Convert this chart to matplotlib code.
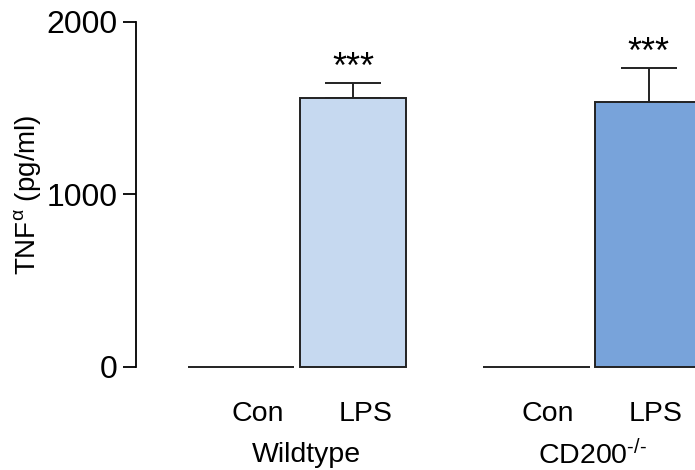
import matplotlib.pyplot as plt

# Data
treatments = ["Con", "LPS", "Con", "LPS"]
groups = ["Wildtype", "CD200$^{\\text{-/-}}$"]
tnf_mean = [0, 1561, 0, 1538]
tnf_err = [0, 86, 0, 196]
stars = ["", "***", "", "***"]

positions = [0, 1, 2.64, 3.64]
colors = ["white", "#c6d9f0", "white", "#78a3da"]
# small horizontal shifts of the text labels (Prism style)
label_shift = [0.15, 0.11, 0.10, 0.06]
group_shift = [0.08, 0.0]

plt.rcParams.update({
    "font.family": ["Liberation Sans", "DejaVu Sans"],
    "mathtext.fontset": "custom",
    "mathtext.rm": "Liberation Sans",
    "mathtext.it": "Liberation Sans",
    "font.size": 20,
})

fig = plt.figure(figsize=(6.95, 4.7), dpi=100)
ax = fig.add_axes([136 / 695, 103 / 470, 1 - 136 / 695, 345 / 470])

for x, h, e, c, s in zip(positions, tnf_mean, tnf_err, colors, stars):
    ax.bar(x, h, width=0.95, color=c, edgecolor="#222222", linewidth=1.4,
           clip_on=False, zorder=2)
    if e > 0:
        ax.errorbar(x, h, yerr=[[0], [e]], fmt="none", ecolor="#222222",
                    elinewidth=1.4, capsize=20, capthick=1.4, zorder=1)
    if s:
        ax.text(x, h + e - 15, s, ha="center", va="bottom", fontsize=26)

ax.set_xlim(-0.9375, 4.054)
ax.set_ylim(0, 2000)
ax.set_yticks([0, 1000, 2000])
ax.set_xticks([])
ax.tick_params(axis="y", direction="out", length=9.5, width=1.3, labelsize=23)
ax.set_ylabel("TNF$^{\\mathrm{α}}$ (pg/ml)", fontsize=20, labelpad=3)

for side in ["top", "right", "bottom"]:
    ax.spines[side].set_visible(False)
ax.spines["left"].set_linewidth(1.3)

# category and group labels below the bars
for x, t, dx in zip(positions, treatments, label_shift):
    ax.annotate(t, xy=(x + dx, 0), xycoords=("data", "axes fraction"),
                xytext=(0, -34), textcoords="offset points",
                ha="center", va="center", fontsize=20.5)
for i, g in enumerate(groups):
    xc = (positions[2 * i] + positions[2 * i + 1]) / 2 + group_shift[i]
    ax.annotate(g, xy=(xc, 0), xycoords=("data", "axes fraction"),
                xytext=(0, -63), textcoords="offset points",
                ha="center", va="center", fontsize=20.5)

plt.savefig("out.png", dpi=100)
